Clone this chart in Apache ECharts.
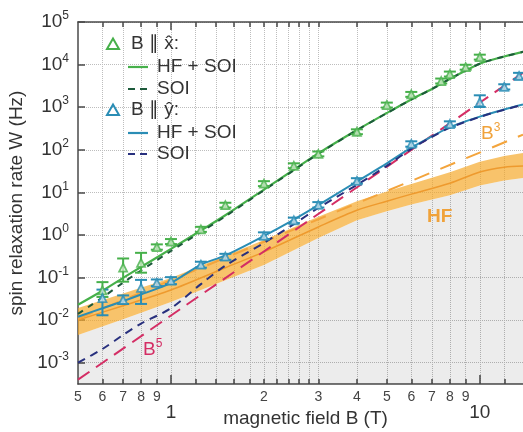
<!DOCTYPE html>
<html>
<head>
<meta charset="utf-8">
<script src="https://cdn.jsdelivr.net/npm/echarts@6/dist/echarts.min.js"></script>
<style>
  html, body { margin: 0; padding: 0; background: #ffffff; }
  #chart { width: 523px; height: 432px; }
</style>
</head>
<body>
<div id="chart"></div>
<script>
// ---- Measured relaxation rates, field along x-hat (Hz) ----
const fieldX    = [0.6,   0.7,  0.8,  0.9,  1.0,  1.25, 1.5, 2.0,  2.5, 3.0, 4.0, 5.0,  6.0,  7.5,  8.0,  9.0,  10.0];
const rateX     = [0.05,  0.17, 0.22, 0.52, 0.70, 1.35, 5.0, 16,   42,  80,  265, 1120, 2000, 4100, 6000, 8700, 15000];
const rateXLow  = [0.035, 0.08, 0.13, 0.45, 0.61, 1.18, 4.4, 14,   37,  70,  232, 980,  1750, 3600, 5250, 7600, 13100];
const rateXHigh = [0.078, 0.28, 0.38, 0.60, 0.80, 1.55, 5.7, 18.3, 48,  91,  302, 1280, 2280, 4700, 6850, 9900, 17100];

// ---- Measured relaxation rates, field along y-hat (Hz) ----
const fieldY    = [0.6,   0.7,   0.8,   0.9,   1.0,   1.25,  1.5,  2.0,  2.5,  3.0, 4.0,  6.0, 8.0, 10.0, 12.0, 13.4];
const rateY     = [0.033, 0.030, 0.057, 0.075, 0.085, 0.20,  0.31, 0.95, 2.2,  5.1, 18.5, 137, 400, 1320, 3000, 5400];
const rateYLow  = [0.013, 0.024, 0.024, 0.063, 0.070, 0.17,  0.26, 0.80, 1.9,  4.4, 16,   118, 345, 1010, 2600, 4600];
const rateYHigh = [0.052, 0.038, 0.088, 0.090, 0.102, 0.235, 0.36, 1.15, 2.55, 5.9, 21.5, 158, 465, 1900, 3450, 6400];

// ---- Model curves (Hz) ----
const curveField = [0.5,   0.6,    0.7,    0.8,    1.0,   1.25,  1.5,  2.0,  2.5, 3.0,  4.0, 5.0, 6.0,  7.0,  8.0,  10,    12,    13.8];
const hfSoiX     = [0.023, 0.049,  0.098,  0.177,  0.47,  1.27,  2.9,  11.6, 34,  82,   290, 730, 1520, 2680, 4600, 10500, 15500, 20000];
const soiX       = [0.014, 0.034,  0.076,  0.146,  0.42,  1.17,  2.73, 11.2, 33,  80.5, 287, 725, 1510, 2670, 4585, 10470, 15460, 19960];
const hfSoiY     = [0.012, 0.019,  0.028,  0.040,  0.075, 0.20,  0.33, 0.95, 2.3, 5.0,  18,  48,  112,  205,  340,  600,   880,   1150];
const soiY       = [0.001, 0.0021, 0.0045, 0.0083, 0.019, 0.07,  0.19, 0.65, 1.8, 4.3,  15,  42,  105,  200,  330,  590,   870,   1140];

// Hyperfine-only contribution with its uncertainty band
const hfField = [0.5,    0.7,    1.0,    1.5,   2.0,   3.0,  4.0, 5.0,  6.0,  8.0,  10,   12,   13.8];
const hfRate  = [0.0101, 0.0218, 0.051,  0.17,  0.40,  1.54, 3.8, 6.2,  9.1,  16.4, 30,   39,   41.7];
const hfHigh  = [0.0193, 0.042,  0.098,  0.325, 0.76,  2.66, 6.2, 10.5, 15.8, 29.5, 52,   71,   84];
const hfLow   = [0.0045, 0.0105, 0.0267, 0.086, 0.198, 0.85, 2.2, 3.6,  5.2,  8.6,  14.4, 19.1, 21.8];

// Power-law guides (end points)
const b3Field = [0.5, 13.8];
const b3Rate  = [0.0108, 226];
const b5Field = [0.5, 13.8];
const b5Rate  = [0.0004, 6400];

// ---- Axis ticks and labels ----
const minorTickField  = [0.6, 0.7, 0.8, 0.9, 1, 1.2, 1.4, 1.6, 1.8, 2, 2.2, 2.4, 2.6, 2.8, 3, 4, 5, 6, 7, 8, 9, 10, 12];
const minorLabelField = [0.5, 0.6, 0.7, 0.8, 0.9, 2, 3, 4, 5, 6, 7, 8, 9];
const minorLabelText  = ['5', '6', '7', '8', '9', '2', '3', '4', '5', '6', '7', '8', '9'];
const majorField      = [1, 10];
const majorLabelText  = ['1', '10'];
const yTickExp        = [-3, -2, -1, 0, 1, 2, 3, 4, 5];

const L = Math.log10;
const FONT = 'Liberation Sans, Arial, Helvetica, sans-serif';
const TEXT = '#333333';
const AXIS = '#4a4a4a';
const GREEN = '#46b04a';
const GREEN_DARK = '#1d5a3b';
const TEAL = '#2a8db5';
const NAVY = '#28307e';
const RED = '#d42d64';
const ORANGE = '#f0a23a';

const toPairs = (xs, ys) => xs.map((x, i) => [L(x), L(ys[i])]);
const toBars = (xs, lo, hi) => xs.map((x, i) => [L(x), L(lo[i]), L(hi[i])]);
const lookup = (fields, texts) => v => {
  const i = fields.findIndex(f => Math.abs(L(f) - v) < 1e-6);
  return i >= 0 ? texts[i] : '';
};

const xMin = L(0.5), xMax = L(13.8), yMin = -3.5, yMax = 5;

function errorBars(color) {
  return function (params, api) {
    const x = api.value(0);
    const pLo = api.coord([x, api.value(1)]);
    const pHi = api.coord([x, api.value(2)]);
    const w = 6;
    const style = { stroke: color, lineWidth: 2, fill: null };
    return {
      type: 'group',
      children: [
        { type: 'line', shape: { x1: pLo[0], y1: pLo[1], x2: pHi[0], y2: pHi[1] }, style },
        { type: 'line', shape: { x1: pLo[0] - w, y1: pLo[1], x2: pLo[0] + w, y2: pLo[1] }, style },
        { type: 'line', shape: { x1: pHi[0] - w, y1: pHi[1], x2: pHi[0] + w, y2: pHi[1] }, style }
      ]
    };
  };
}

// Shaded region under the hyperfine band
function renderBelowHF(params, api) {
  const top = hfField.map((b, i) => api.coord([L(b), L(hfLow[i])]));
  const last = hfField[hfField.length - 1];
  const pts = top.concat([api.coord([L(last), yMin]), api.coord([L(hfField[0]), yMin])]);
  return { type: 'polygon', shape: { points: pts }, style: { fill: 'rgba(0,0,0,0.075)' }, silent: true };
}

// Hyperfine uncertainty band between hfLow and hfHigh
function renderHFBand(params, api) {
  const upper = hfField.map((b, i) => api.coord([L(b), L(hfHigh[i])]));
  const lower = hfField.map((b, i) => api.coord([L(b), L(hfLow[i])])).reverse();
  return { type: 'polygon', shape: { points: upper.concat(lower) }, style: { fill: 'rgba(245,165,35,0.67)' }, silent: true };
}

function curve(name, xs, ys, color, width, type, z) {
  return {
    name, type: 'line', data: toPairs(xs, ys), symbol: 'none', smooth: 0.3,
    lineStyle: { color, width, type }, z, silent: true
  };
}

const hiddenAxisBase = { type: 'value', min: xMin, max: xMax, splitLine: { show: false } };

const option = {
  animation: false,
  backgroundColor: '#ffffff',
  grid: { left: 78, top: 22, width: 445, height: 362, containLabel: false, outerBoundsMode: 'none' },
  xAxis: [
    {
      type: 'value', position: 'bottom', min: xMin, max: xMax,
      axisLine: { show: true, onZero: false, lineStyle: { color: AXIS, width: 1.5 } },
      axisTick: { show: true, inside: true, length: 5, customValues: minorTickField.map(L), lineStyle: { color: AXIS, width: 1.5 } },
      axisLabel: { show: true, customValues: minorLabelField.map(L), formatter: lookup(minorLabelField, minorLabelText),
                   margin: 6, fontSize: 14, color: '#444', fontFamily: FONT },
      splitLine: { show: true, lineStyle: { type: 'dotted', color: '#bdbdbd', width: 1 } },
      name: 'magnetic field B (T)', nameLocation: 'middle', nameGap: 18,
      nameTextStyle: { fontSize: 19, color: TEXT, fontFamily: FONT, padding: [0, 0, 0, 10] }
    },
    Object.assign({}, hiddenAxisBase, {
      position: 'bottom',
      axisLine: { show: false, onZero: false },
      axisTick: { show: true, inside: true, length: 9, customValues: majorField.map(L), lineStyle: { color: AXIS, width: 1.5 } },
      axisLabel: { show: true, customValues: majorField.map(L), formatter: lookup(majorField, majorLabelText),
                   margin: 19, fontSize: 19, color: TEXT, fontFamily: FONT }
    }),
    Object.assign({}, hiddenAxisBase, {
      position: 'top',
      axisLine: { show: true, onZero: false, lineStyle: { color: AXIS, width: 1.5 } },
      axisTick: { show: true, inside: true, length: 5, customValues: minorTickField.map(L), lineStyle: { color: AXIS, width: 1.5 } },
      axisLabel: { show: false }
    }),
    Object.assign({}, hiddenAxisBase, {
      position: 'top',
      axisLine: { show: false, onZero: false },
      axisTick: { show: true, inside: true, length: 8, customValues: majorField.map(L), lineStyle: { color: AXIS, width: 1.5 } },
      axisLabel: { show: false }
    })
  ],
  yAxis: {
    type: 'value', position: 'left', min: yMin, max: yMax,
    axisLine: { show: true, onZero: false, lineStyle: { color: AXIS, width: 1.5 } },
    axisTick: { show: true, inside: true, length: 7, customValues: yTickExp, lineStyle: { color: AXIS, width: 1.5 } },
    axisLabel: {
      show: true, customValues: yTickExp, margin: 9,
      formatter: v => '{b|10}{s|' + Math.round(v) + '}',
      rich: {
        b: { fontSize: 19, fontFamily: FONT, color: TEXT, lineHeight: 24 },
        s: { fontSize: 12, fontFamily: FONT, color: TEXT, verticalAlign: 'top', lineHeight: 12 }
      }
    },
    splitLine: { show: true, lineStyle: { type: 'dotted', color: '#bdbdbd', width: 1 } },
    name: 'spin relaxation rate W (Hz)', nameLocation: 'middle', nameGap: 45,
    nameTextStyle: { fontSize: 19, color: TEXT, fontFamily: FONT }
  },
  graphic: [
    // legend
    { type: 'polygon', shape: { points: [[107, 49], [113, 38.5], [119, 49]] }, style: { fill: 'none', stroke: GREEN, lineWidth: 2 }, z: 100 },
    { type: 'text', x: 131, y: 44, style: { text: 'B \u2225 x\u0302:', fontSize: 19, fontFamily: FONT, fill: TEXT, verticalAlign: 'middle' }, z: 100 },
    { type: 'line', shape: { x1: 128, y1: 67, x2: 148, y2: 67 }, style: { stroke: GREEN, lineWidth: 2.2 }, z: 100 },
    { type: 'text', x: 157, y: 67, style: { text: 'HF + SOI', fontSize: 19, fontFamily: FONT, fill: TEXT, verticalAlign: 'middle' }, z: 100 },
    { type: 'line', shape: { x1: 128, y1: 89, x2: 148, y2: 89 }, style: { stroke: GREEN_DARK, lineWidth: 2.2, lineDash: [7, 5] }, z: 100 },
    { type: 'text', x: 157, y: 89, style: { text: 'SOI', fontSize: 19, fontFamily: FONT, fill: TEXT, verticalAlign: 'middle' }, z: 100 },
    { type: 'polygon', shape: { points: [[107, 115], [113, 104.5], [119, 115]] }, style: { fill: 'none', stroke: TEAL, lineWidth: 2 }, z: 100 },
    { type: 'text', x: 131, y: 110, style: { text: 'B \u2225 y\u0302:', fontSize: 19, fontFamily: FONT, fill: TEXT, verticalAlign: 'middle' }, z: 100 },
    { type: 'line', shape: { x1: 128, y1: 133, x2: 148, y2: 133 }, style: { stroke: TEAL, lineWidth: 2.2 }, z: 100 },
    { type: 'text', x: 157, y: 133, style: { text: 'HF + SOI', fontSize: 19, fontFamily: FONT, fill: TEXT, verticalAlign: 'middle' }, z: 100 },
    { type: 'line', shape: { x1: 128, y1: 154, x2: 148, y2: 154 }, style: { stroke: NAVY, lineWidth: 2.2, lineDash: [7, 5] }, z: 100 },
    { type: 'text', x: 157, y: 154, style: { text: 'SOI', fontSize: 19, fontFamily: FONT, fill: TEXT, verticalAlign: 'middle' }, z: 100 },
    // curve annotations
    { type: 'text', x: 427, y: 217, style: { text: 'HF', fontSize: 19, fontWeight: 'bold', fontFamily: FONT, fill: ORANGE, verticalAlign: 'middle' }, z: 100 },
    { type: 'text', x: 481, y: 134, style: { text: '{a|B}{b|3}', verticalAlign: 'middle',
        rich: { a: { fontSize: 19, fontFamily: FONT, fill: ORANGE, lineHeight: 24 }, b: { fontSize: 12, fontFamily: FONT, fill: ORANGE, verticalAlign: 'top', lineHeight: 12 } } }, z: 100 },
    { type: 'text', x: 143, y: 350, style: { text: '{a|B}{b|5}', verticalAlign: 'middle',
        rich: { a: { fontSize: 19, fontFamily: FONT, fill: RED, lineHeight: 24 }, b: { fontSize: 12, fontFamily: FONT, fill: RED, verticalAlign: 'top', lineHeight: 12 } } }, z: 100 }
  ],
  series: [
    { name: 'below HF', type: 'custom', data: [[xMin, yMin]], renderItem: renderBelowHF, silent: true, z: 1 },
    { name: 'HF band', type: 'custom', data: [[xMin, yMin]], renderItem: renderHFBand, silent: true, z: 1 },
    curve('HF', hfField, hfRate, '#ee9a2e', 1.5, 'solid', 2),
    curve('B3', b3Field, b3Rate, '#f3a43c', 2, [16, 12], 3),
    curve('B5', b5Field, b5Rate, RED, 2, [14, 8], 3),
    curve('HF + SOI, y', curveField, hfSoiY, TEAL, 2, 'solid', 4),
    curve('SOI, y', curveField, soiY, NAVY, 2, [8, 6], 5),
    curve('HF + SOI, x', curveField, hfSoiX, GREEN, 2.2, 'solid', 4),
    curve('SOI, x', curveField, soiX, GREEN_DARK, 2, [6, 6], 5),
    {
      name: 'err x', type: 'custom', data: toBars(fieldX, rateXLow, rateXHigh),
      renderItem: errorBars(GREEN), encode: { x: 0, y: [1, 2] }, z: 6, silent: true
    },
    {
      name: 'err y', type: 'custom', data: toBars(fieldY, rateYLow, rateYHigh),
      renderItem: errorBars(TEAL), encode: { x: 0, y: [1, 2] }, z: 6, silent: true
    },
    {
      name: 'B || x', type: 'scatter', data: toPairs(fieldX, rateX), symbol: 'triangle', symbolSize: 8,
      itemStyle: { color: 'rgba(220,240,215,0.9)', borderColor: GREEN, borderWidth: 1.8 }, z: 7, silent: true
    },
    {
      name: 'B || y', type: 'scatter', data: toPairs(fieldY, rateY), symbol: 'triangle', symbolSize: 8,
      itemStyle: { color: 'rgba(210,232,242,0.9)', borderColor: TEAL, borderWidth: 1.8 }, z: 7, silent: true
    }
  ]
};

const chart = echarts.init(document.getElementById('chart'), null, { renderer: 'canvas' });
chart.setOption(option);
</script>
</body>
</html>
